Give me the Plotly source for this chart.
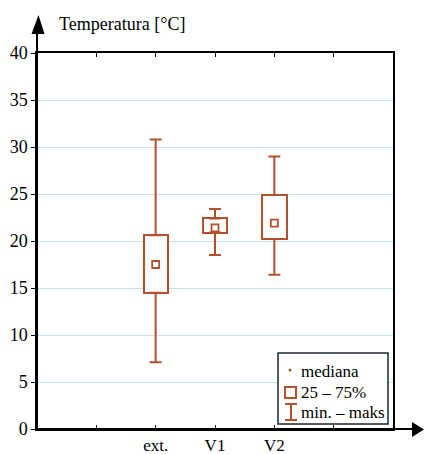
import plotly.graph_objects as go

categories = ["ext.", "V1", "V2"]
mins = [7.1, 18.5, 16.4]
q1s = [14.5, 20.9, 20.2]
medians = [17.5, 21.4, 21.9]
q3s = [20.6, 22.4, 24.9]
maxs = [30.8, 23.4, 29.0]
y_ticks = [0, 5, 10, 15, 20, 25, 30, 35, 40]

C = "#b5502e"
FONT = "Liberation Serif, Times New Roman, serif"
W, H = 424, 454
L, R, T, B = 37, 393, 53, 429

xpos = [i + 2 for i in range(len(categories))]

def px(x):
    return (x - L) / (R - L)

def py(y):
    return (B - y) / (B - T)

fig = go.Figure()
fig.add_trace(go.Bar(
    x=xpos, base=q1s, y=[b - a for a, b in zip(q1s, q3s)], width=0.41,
    marker=dict(color="white", line=dict(color=C, width=2)), showlegend=False,
))
fig.add_trace(go.Scatter(
    x=xpos, y=q3s, mode="markers", marker=dict(size=1, color=C, opacity=0),
    error_y=dict(type="data", symmetric=False, array=[m - q for m, q in zip(maxs, q3s)],
                 arrayminus=[0] * 3, color=C, thickness=2, width=6),
    showlegend=False,
))
fig.add_trace(go.Scatter(
    x=xpos, y=q1s, mode="markers", marker=dict(size=1, color=C, opacity=0),
    error_y=dict(type="data", symmetric=False, array=[0] * 3,
                 arrayminus=[q - m for m, q in zip(mins, q1s)], color=C, thickness=2, width=6),
    showlegend=False,
))
fig.add_trace(go.Scatter(
    x=xpos, y=medians, mode="markers",
    marker=dict(symbol="square", size=7, color="white", line=dict(color=C, width=1.8)),
    showlegend=False,
))

shapes = []
ann = []
shapes.append(dict(type="line", xref="paper", yref="paper", x0=px(37), x1=px(37), y0=0, y1=py(30),
                   line=dict(color="black", width=2)))
shapes.append(dict(type="path", xref="paper", yref="paper",
                   path=f"M {px(31.5)} {py(34)} L {px(38.5)} {py(15)} L {px(44.5)} {py(34)} Z",
                   fillcolor="black", line=dict(color="black", width=0)))
shapes.append(dict(type="line", xref="paper", yref="paper", x0=0, x1=px(414), y0=0, y1=0,
                   line=dict(color="black", width=2)))
shapes.append(dict(type="path", xref="paper", yref="paper",
                   path=f"M {px(412)} {py(422)} L {px(424)} {py(429.5)} L {px(412)} {py(437)} Z",
                   fillcolor="black", line=dict(color="black", width=0)))
shapes.append(dict(type="rect", xref="paper", yref="paper", x0=px(278), x1=px(388), y0=py(424), y1=py(353),
                   fillcolor="white", line=dict(color="#1c2633", width=1.5), layer="above"))
shapes.append(dict(type="circle", xref="paper", yref="paper", x0=px(288.5), x1=px(291.5), y0=py(371.5), y1=py(368.5),
                   fillcolor=C, line=dict(color=C, width=0), layer="above"))
shapes.append(dict(type="rect", xref="paper", yref="paper", x0=px(285), x1=px(296), y0=py(398), y1=py(387),
                   fillcolor="white", line=dict(color=C, width=2), layer="above"))
shapes.append(dict(type="path", xref="paper", yref="paper",
                   path=(f"M {px(285)} {py(404)} L {px(297)} {py(404)} M {px(291)} {py(404)} L {px(291)} {py(420)} "
                         f"M {px(285)} {py(420)} L {px(297)} {py(420)}"),
                   line=dict(color=C, width=2), layer="above"))
for txt, yy in [("mediana", 371), ("25 – 75%", 392), ("min. – maks", 412)]:
    ann.append(dict(text=txt, xref="paper", yref="paper", x=px(299), y=py(yy), xanchor="left", yanchor="middle",
                    showarrow=False, font=dict(family=FONT, size=17, color="black")))
ann.append(dict(text="Temperatura [°C]", xref="paper", yref="paper", x=px(57), y=py(24), xanchor="left",
                yanchor="middle", showarrow=False, font=dict(family=FONT, size=18, color="black")))

fig.update_layout(
    width=W, height=H,
    margin=dict(l=L, r=W - R, t=T, b=H - B),
    paper_bgcolor="white", plot_bgcolor="white",
    font=dict(family=FONT, size=18, color="black"),
    bargap=0,
    shapes=shapes, annotations=ann,
)
fig.update_xaxes(range=[0, 6], tickvals=[1, 2, 3, 4, 5], ticktext=[""] + categories + [""],
                 ticks="inside", ticklen=4, tickcolor="black", mirror="ticks", showline=True,
                 linecolor="black", linewidth=1.5, showgrid=False, zeroline=False, automargin=False,
                 tickfont=dict(family=FONT, size=17))
fig.update_yaxes(range=[0, 40], tickvals=y_ticks, ticks="outside", ticklen=4, tickcolor="black",
                 showline=True, mirror=True, linecolor="black", linewidth=1.5, automargin=False,
                 showgrid=True, gridcolor="#cfe0ec", gridwidth=1, zeroline=False,
                 tickfont=dict(family=FONT, size=18))

fig.write_html("out.html")
